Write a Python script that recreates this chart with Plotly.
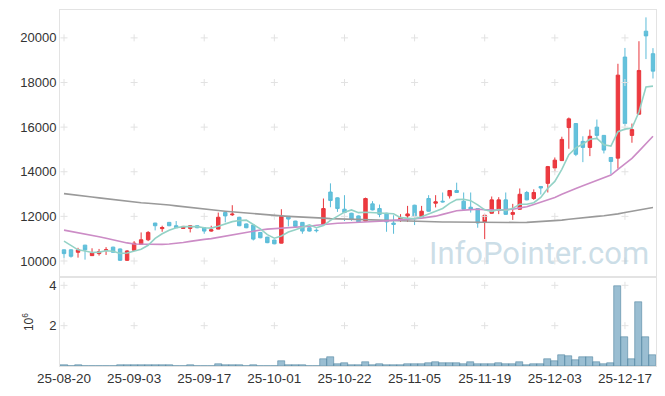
import pandas as pd
import plotly.graph_objects as go

# ---- categories (trading days) ----
holidays = ["2025-10-03", "2025-10-06", "2025-10-07", "2025-10-08", "2025-10-09"]
days = [d for d in pd.bdate_range("2025-08-20", "2025-12-23") if d.strftime("%Y-%m-%d") not in holidays]
dates = [d.strftime("%y-%m-%d") for d in days]

# ---- OHLC ----
opens = [10500,10500,10390,10710,10240,10330,10480,10620,10540,10030,
         10480,10740,10950,11700,11450,11730,11580,11460,11460,11580,
         11490,11340,11430,12170,12070,11960,11660,11610,11280,11070,
         10940,10800,12000,11790,11730,11490,11380,11640,13090,12830,
         12320,12140,12020,11790,12560,12350,12140,11700,11830,12020,
         12500,11990,12800,12590,12680,12920,13160,12680,12410,12350,
         11750,12140,12260,12740,12090,12320,13070,12800,13340,13480,
         14170,14500,15980,16160,15360,15090,16000,15630,14640,14610,
         19140,15630,16580,20300,19290]
highs = [10510,10520,10590,10720,10570,10540,10620,10640,10560,10490,
         10890,11280,11340,11710,11580,11750,11790,11570,11600,11600,
         11500,11580,12170,12190,12500,11980,11680,11620,11300,11080,
         10950,12320,12010,11800,11740,11500,11460,12800,13480,12850,
         12950,12160,12040,12840,12680,12530,12160,12050,12100,12470,
         12520,12470,12950,12950,13070,13180,13510,13070,13070,12370,
         12070,12890,12860,13070,12560,13250,13140,13210,13360,14260,
         14640,15570,16430,16180,15590,15890,16340,15640,14660,18840,
         19550,16160,19850,20920,19540]
lows = [10130,10150,10150,10060,10230,10240,10270,10380,10000,10000,
        10450,10730,10890,11370,11310,11560,11480,11450,11280,11470,
        11220,11310,11420,11730,12020,11560,11470,10920,11020,10800,
        10750,10790,11550,11530,11220,11320,11280,11630,12410,12200,
        11790,11800,11720,11780,12270,11960,11310,11220,11750,11750,
        11610,11980,12210,12400,12620,12800,13050,12300,12170,11490,
        10980,12120,12100,12070,11840,12300,12720,12740,12980,13070,
        14020,14480,15030,14700,14430,14700,15500,14820,13900,14140,
        16040,15300,16560,19050,18180]
closes = [10330,10210,10500,10500,10360,10420,10500,10390,10030,10450,
          10800,10950,11280,11580,11500,11580,11490,11550,11580,11490,
          11340,11400,11960,12020,12100,11580,11490,10980,11040,10820,
          10770,12000,11880,11550,11340,11340,11360,12350,12710,12350,
          12170,11860,11740,12800,12290,12090,11750,11640,11950,12110,
          12000,12230,12230,12650,12650,13160,13070,12320,12320,11700,
          12050,12740,12740,12090,12170,12990,12740,13070,13270,14230,
          14520,15450,16370,14780,15090,15590,15630,14970,14460,18330,
          16160,15890,18540,20090,18510]
volumes = [30000,5000,30000,5000,5000,5000,5000,5000,40000,40000,
           40000,40000,40000,40000,40000,40000,5000,5000,30000,5000,
           5000,5000,110000,40000,40000,40000,5000,30000,5000,5000,
           5000,230000,40000,40000,40000,5000,5000,330000,430000,80000,
           130000,40000,40000,180000,40000,80000,40000,40000,40000,80000,
           80000,80000,130000,180000,130000,130000,130000,80000,180000,80000,
           80000,80000,130000,80000,80000,180000,40000,80000,80000,330000,
           230000,520000,480000,280000,430000,430000,180000,80000,130000,3970000,
           1440000,330000,3180000,1440000,520000]

# ---- moving averages ----
ma5_head = [10890, 10680, 10500, 10450]
ma20 = [11384,11330,11270,11210,11160,11090,11020,10940,10870,10810,
        10760,10750,10740,10736,10745,10760,10780,10830,10880,10937,
        10970,11004,11060,11110,11160,11220,11290,11353,11390,11428,
        11450,11470,11490,11505,11518,11560,11600,11640,11674,11690,
        11700,11710,11719,11740,11763,11780,11800,11820,11840,11860,
        11875,11920,11965,12009,12090,12170,12254,12280,12300,12321,
        12300,12285,12277,12300,12321,12380,12433,12530,12634,12740,
        12844,12990,13138,13250,13370,13482,13600,13720,13853,14107,
        14361,14598,14924,15268,15594]
ma60 = [13020,12990,12950,12910,12870,12830,12790,12750,12710,12670,
        12630,12610,12590,12570,12550,12510,12470,12430,12390,12350,
        12320,12290,12260,12230,12200,12170,12140,12110,12080,12050,
        12040,12020,12000,11990,11970,11950,11940,11920,11900,11890,
        11875,11860,11850,11835,11820,11810,11800,11790,11785,11780,
        11775,11770,11760,11755,11750,11745,11740,11735,11730,11725,
        11720,11720,11720,11720,11722,11725,11730,11745,11760,11780,
        11800,11830,11870,11910,11950,11980,12000,12030,12055,12110,
        12170,12230,12290,12350,12400]

price_ticks = [10000, 12000, 14000, 16000, 18000, 20000]
price_tick_text = ["10000", "12000", "14000", "16000", "18000", "20000"]
vol_ticks = [2000000, 4000000]
vol_tick_text = ["2", "4"]

ma5 = pd.Series(closes).rolling(5).mean().tolist()
ma5[:4] = ma5_head

x_tick_cats = dates[::10]

fig = go.Figure()

# grid "+" marks
cross = dict(symbol="cross-thin", size=5, line=dict(color="#e2e2e2", width=1))
gx, gy = [], []
for c in x_tick_cats:
    for v in price_ticks:
        gx.append(c); gy.append(v)
fig.add_trace(go.Scatter(x=gx, y=gy, mode="markers", hoverinfo="skip", marker=cross,
                         xaxis="x", yaxis="y"))
gx2, gy2 = [], []
for c in x_tick_cats:
    for v in vol_ticks:
        gx2.append(c); gy2.append(v)
fig.add_trace(go.Scatter(x=gx2, y=gy2, mode="markers", hoverinfo="skip", marker=cross,
                         xaxis="x2", yaxis="y2"))

fig.add_trace(go.Scatter(x=dates, y=ma60, mode="lines", line=dict(color="#9a9a9a", width=1.6),
                         xaxis="x", yaxis="y"))
fig.add_trace(go.Scatter(x=dates, y=ma20, mode="lines", line=dict(color="#cc8cc6", width=1.6),
                         xaxis="x", yaxis="y"))
fig.add_trace(go.Scatter(x=dates, y=ma5, mode="lines", line=dict(color="#93d2c6", width=1.6),
                         xaxis="x", yaxis="y"))

fig.add_trace(go.Candlestick(
    x=dates, open=opens, high=highs, low=lows, close=closes,
    increasing=dict(line=dict(color="#e8363c", width=1), fillcolor="#ee3a40"),
    decreasing=dict(line=dict(color="#5bbcd8", width=1), fillcolor="#64c2dc"),
    whiskerwidth=0, xaxis="x", yaxis="y"))

fig.add_trace(go.Bar(x=dates, y=volumes,
                     marker=dict(color="rgba(120,168,195,0.75)", line=dict(color="rgba(70,125,155,0.9)", width=0.6)),
                     xaxis="x2", yaxis="y2"))

xr = [-0.57, len(dates) - 0.57]
axis_line = "#e3e3e3"
# page body has an 8px margin, so the figure is sized/offset to compensate
fig.update_layout(
    width=649, height=380,
    margin=dict(l=52, r=1, t=2, b=22, autoexpand=False),
    paper_bgcolor="white", plot_bgcolor="white",
    showlegend=False, bargap=0.0,
    font=dict(family="Liberation Sans, Arial, sans-serif", size=13, color="#333333"),
    xaxis=dict(type="category", range=xr, showticklabels=False, showgrid=False, automargin=False,
               showline=True, mirror=True, linecolor=axis_line, rangeslider=dict(visible=False),
               anchor="y", categoryorder="array", categoryarray=dates, zeroline=False),
    yaxis=dict(domain=[0.253, 1], range=[9330, 21250], tickvals=price_ticks, ticktext=price_tick_text,
               showgrid=False, automargin=False,
               showline=True, mirror=True, linecolor=axis_line, zeroline=False, ticks="",
               anchor="x"),
    xaxis2=dict(type="category", range=xr, matches="x", tickvals=x_tick_cats, ticktext=x_tick_cats,
                showgrid=False, showline=True, mirror=True, linecolor=axis_line, ticks="",
                automargin=False,
                anchor="y2", categoryorder="array", categoryarray=dates,
                tickfont=dict(size=13.5)),
    yaxis2=dict(domain=[0, 0.247], range=[0, 4360000], tickvals=vol_ticks, ticktext=vol_tick_text,
                showgrid=False, showline=True, mirror=True, linecolor=axis_line, zeroline=False,
                ticks="", anchor="x2", automargin=False,
                title=dict(text="10<sup>6</sup>", font=dict(size=12), standoff=12)),
    annotations=[dict(text="InfoPointer.com", xref="paper", yref="paper", x=0.804, y=0.315,
                      xanchor="center", yanchor="middle", showarrow=False,
                      font=dict(family="Roboto", size=31, color="rgba(170,200,216,0.6)"))],
)

fig.write_html("out.html")
